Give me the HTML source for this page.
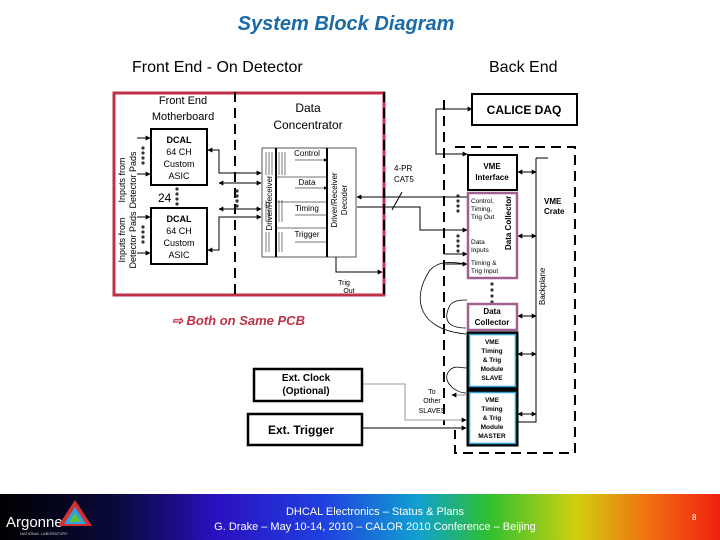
<!DOCTYPE html>
<html><head><meta charset="utf-8"><style>
html,body{margin:0;padding:0;background:#fff;width:720px;height:540px;overflow:hidden}
svg{display:block}
text{font-family:"Liberation Sans",sans-serif}
</style></head><body>
<svg width="720" height="540" viewBox="0 0 720 540" xmlns="http://www.w3.org/2000/svg">
<defs>
<marker id="a" viewBox="0 0 8 8" refX="7" refY="4" markerWidth="5" markerHeight="5" orient="auto-start-reverse"><path d="M0,0L8,4L0,8z" fill="#000"/></marker>
<linearGradient id="g" x1="0" x2="1" y1="0" y2="0">
<stop offset="0" stop-color="#000"/><stop offset="0.17" stop-color="#0a0a40"/><stop offset="0.3" stop-color="#2a10c0"/><stop offset="0.45" stop-color="#2040e0"/><stop offset="0.58" stop-color="#10a0d0"/><stop offset="0.68" stop-color="#30c030"/><stop offset="0.8" stop-color="#d0d010"/><stop offset="0.9" stop-color="#f07010"/><stop offset="1" stop-color="#f02010"/>
</linearGradient>
</defs>
<text x="346" y="30" text-anchor="middle" font-size="20" font-weight="bold" font-style="italic" fill="#1a6aa8">System Block Diagram</text>
<text x="132" y="72" font-size="16">Front End - On Detector</text>
<text x="489" y="72" font-size="16">Back End</text>

<!-- red box -->
<rect x="114" y="93" width="270" height="202" fill="none" stroke="#c0304a" stroke-width="3"/>
<line x1="235" y1="92" x2="235" y2="295" stroke="#000" stroke-width="2" stroke-dasharray="10,6"/>
<line x1="384" y1="92" x2="384" y2="295" stroke="#000" stroke-width="2" stroke-dasharray="10,6"/>
<line x1="444" y1="100" x2="444" y2="425" stroke="#000" stroke-width="2" stroke-dasharray="10,6"/>
<text x="183" y="104" text-anchor="middle" font-size="11">Front End</text>
<text x="183" y="120" text-anchor="middle" font-size="11">Motherboard</text>
<text x="308" y="112" text-anchor="middle" font-size="12">Data</text>
<text x="308" y="129" text-anchor="middle" font-size="12">Concentrator</text>

<!-- DCAL boxes -->
<g font-size="9" text-anchor="middle">
<rect x="151" y="129" width="56" height="56" fill="#fff" stroke="#000" stroke-width="2"/>
<text x="179" y="143" font-weight="bold">DCAL</text><text x="179" y="155">64 CH</text><text x="179" y="167">Custom</text><text x="179" y="179">ASIC</text>
<rect x="151" y="208" width="56" height="56" fill="#fff" stroke="#000" stroke-width="2"/>
<text x="179" y="222" font-weight="bold">DCAL</text><text x="179" y="234">64 CH</text><text x="179" y="246">Custom</text><text x="179" y="258">ASIC</text>
</g>
<text x="158" y="202" font-size="12">24</text>
<g fill="#333"><circle cx="177" cy="189" r="1.6"/><circle cx="177" cy="194" r="1.6"/><circle cx="177" cy="199" r="1.6"/><circle cx="177" cy="204" r="1.6"/>
<circle cx="143" cy="148" r="1.6"/><circle cx="143" cy="153" r="1.6"/><circle cx="143" cy="158" r="1.6"/><circle cx="143" cy="163" r="1.6"/>
<circle cx="143" cy="227" r="1.6"/><circle cx="143" cy="232" r="1.6"/><circle cx="143" cy="237" r="1.6"/><circle cx="143" cy="242" r="1.6"/>
<circle cx="237" cy="191" r="1.6"/><circle cx="237" cy="196" r="1.6"/><circle cx="237" cy="201" r="1.6"/><circle cx="237" cy="206" r="1.6"/>
<circle cx="458" cy="196" r="1.6"/><circle cx="458" cy="201" r="1.6"/><circle cx="458" cy="206" r="1.6"/><circle cx="458" cy="211" r="1.6"/>
<circle cx="458" cy="236" r="1.6"/><circle cx="458" cy="241" r="1.6"/><circle cx="458" cy="246" r="1.6"/><circle cx="458" cy="251" r="1.6"/>
<circle cx="492" cy="284" r="1.6"/><circle cx="492" cy="290" r="1.6"/><circle cx="492" cy="296" r="1.6"/><circle cx="492" cy="302" r="1.6"/></g>
<g font-size="9" transform="rotate(-90)"><text x="-180" y="125" text-anchor="middle">Inputs from</text><text x="-180" y="136" text-anchor="middle">Detector Pads</text>
<text x="-240" y="125" text-anchor="middle">Inputs from</text><text x="-240" y="136" text-anchor="middle">Detector Pads</text></g>
<g stroke="#000" stroke-width="1" fill="none" marker-end="url(#a)">
<line x1="137" y1="138" x2="150" y2="138"/><line x1="137" y1="174" x2="150" y2="174"/>
<line x1="137" y1="217" x2="150" y2="217"/><line x1="137" y1="253" x2="150" y2="253"/>
</g>
<!-- DCAL to concentrator -->
<g stroke="#000" stroke-width="1" fill="none">
<path d="M208,150 H219 V173 H261" marker-start="url(#a)" marker-end="url(#a)"/>
<line x1="219" y1="183" x2="261" y2="183" marker-start="url(#a)" marker-end="url(#a)"/>
<line x1="219" y1="209" x2="261" y2="209" marker-start="url(#a)" marker-end="url(#a)"/>
<path d="M208,250 H219 V217 H261" marker-start="url(#a)" marker-end="url(#a)"/>
</g>
<!-- concentrator inner -->
<rect x="262" y="148" width="94" height="109" fill="#fff" stroke="#555" stroke-width="1"/>
<line x1="276" y1="148" x2="276" y2="257" stroke="#000" stroke-width="2"/>
<line x1="327" y1="148" x2="327" y2="257" stroke="#000" stroke-width="2"/>
<g stroke="#444" stroke-width="0.7">
<line x1="266" y1="152" x2="266" y2="175"/><line x1="269" y1="152" x2="269" y2="175"/><line x1="272" y1="152" x2="272" y2="175"/><line x1="279" y1="152" x2="279" y2="175"/><line x1="282" y1="152" x2="282" y2="175"/><line x1="285" y1="152" x2="285" y2="175"/>
<line x1="266" y1="200" x2="266" y2="222"/><line x1="269" y1="200" x2="269" y2="222"/><line x1="279" y1="200" x2="279" y2="222"/><line x1="282" y1="200" x2="282" y2="222"/>
<line x1="266" y1="232" x2="266" y2="252"/><line x1="269" y1="232" x2="269" y2="252"/><line x1="279" y1="232" x2="279" y2="252"/><line x1="282" y1="232" x2="282" y2="252"/>
<line x1="276" y1="177" x2="327" y2="177"/><line x1="276" y1="202" x2="327" y2="202"/><line x1="276" y1="228" x2="327" y2="228"/>
<line x1="295" y1="160" x2="327" y2="160" marker-end="url(#a)"/><line x1="295" y1="188" x2="327" y2="188" marker-end="url(#a)"/>
<line x1="295" y1="215" x2="327" y2="215"/><line x1="295" y1="242" x2="327" y2="242"/>
</g>
<g font-size="8" text-anchor="middle"><text x="307" y="156">Control</text><text x="307" y="185">Data</text><text x="307" y="211">Timing</text><text x="307" y="237">Trigger</text></g>
<g font-size="8" transform="rotate(-90)"><text x="-203" y="272" text-anchor="middle">Driver/Receiver</text><text x="-200" y="337" text-anchor="middle">Driver/Receiver</text><text x="-200" y="347" text-anchor="middle">Decoder</text></g>
<!-- to back end -->
<g stroke="#000" stroke-width="1" fill="none">
<line x1="357" y1="197" x2="467" y2="197"/>
<path d="M357,207 H420 V230 H467" marker-end="url(#a)"/>
<path d="M357,197 H360" marker-start="url(#a)"/>
<path d="M336,257 V272 H382" marker-end="url(#a)"/>
<line x1="392" y1="210" x2="402" y2="192"/>
<line x1="444" y1="254" x2="467" y2="254" marker-end="url(#a)"/>
<line x1="444" y1="264" x2="467" y2="264" marker-end="url(#a)"/>
<path d="M472,109 H436 V154 H467" marker-start="url(#a)" marker-end="url(#a)"/>
<line x1="518" y1="172" x2="536" y2="172" marker-start="url(#a)" marker-end="url(#a)"/>
<line x1="518" y1="236" x2="536" y2="236" marker-start="url(#a)" marker-end="url(#a)"/>
<line x1="518" y1="316" x2="536" y2="316" marker-start="url(#a)" marker-end="url(#a)"/>
<line x1="518" y1="354" x2="536" y2="354" marker-start="url(#a)" marker-end="url(#a)"/>
<line x1="518" y1="414" x2="536" y2="414" marker-start="url(#a)" marker-end="url(#a)"/>
<path d="M536,158 H548 M536,158 V422 H518"/>
<path d="M362,384 H405 V420 H466" stroke="#999" marker-end="url(#a)"/>
<line x1="362" y1="428" x2="466" y2="428" marker-end="url(#a)"/>
<line x1="466" y1="395" x2="452" y2="395" stroke="#999" marker-end="url(#a)"/>
<path d="M466,334 C420,330 410,300 430,270 C440,260 450,262 467,264" stroke-width="0.8"/>
<path d="M466,328 C455,328 440,325 450,305 C455,300 460,300 467,300" stroke-width="0.8"/>
<path d="M466,393 C455,393 440,380 450,370 C455,365 460,368 467,368" stroke-width="0.8"/>
</g>
<text x="344" y="285" font-size="7" text-anchor="middle">Trig</text><text x="349" y="293" font-size="7" text-anchor="middle">Out</text>
<text x="394" y="171" font-size="8">4-PR</text><text x="394" y="182" font-size="8">CAT5</text>

<!-- VME crate dashed -->
<path d="M455,147 H575 V453 H455 V430" fill="none" stroke="#000" stroke-width="2" stroke-dasharray="10,6"/>
<text x="544" y="204" font-size="8" font-weight="bold">VME</text><text x="544" y="214" font-size="8" font-weight="bold">Crate</text>
<text transform="translate(545,305) rotate(-90)" font-size="8">Backplane</text>

<rect x="472" y="94" width="105" height="31" fill="#fff" stroke="#000" stroke-width="2"/>
<text x="524" y="114" font-size="12" font-weight="bold" text-anchor="middle">CALICE DAQ</text>
<rect x="468" y="155" width="49" height="35" fill="#fff" stroke="#000" stroke-width="2"/>
<text x="492" y="169" font-size="8" font-weight="bold" text-anchor="middle">VME</text><text x="492" y="180" font-size="8" font-weight="bold" text-anchor="middle">Interface</text>
<rect x="468" y="193" width="49" height="85" fill="#fff" stroke="#a06090" stroke-width="2.5"/>
<g font-size="6.5"><text x="471" y="203">Control,</text><text x="471" y="211">Timing,</text><text x="471" y="219">Trig Out</text><text x="471" y="244">Data</text><text x="471" y="252">Inputs</text><text x="471" y="265">Timing &amp;</text><text x="471" y="273">Trig Input</text></g>
<text transform="translate(511,250) rotate(-90)" font-size="8" font-weight="bold">Data Collector</text>
<rect x="468" y="304" width="49" height="26" fill="#fff" stroke="#a06090" stroke-width="2.5"/>
<text x="492" y="314" font-size="8" font-weight="bold" text-anchor="middle">Data</text><text x="492" y="325" font-size="8" font-weight="bold" text-anchor="middle">Collector</text>
<rect x="468" y="333" width="49" height="55" fill="#fff" stroke="#000" stroke-width="3"/>
<rect x="469.5" y="334.5" width="46" height="52" fill="none" stroke="#30a0d0" stroke-width="1.5"/>
<g font-size="6.5" font-weight="bold" text-anchor="middle"><text x="492" y="344">VME</text><text x="492" y="353">Timing</text><text x="492" y="362">&amp; Trig</text><text x="492" y="371">Module</text><text x="492" y="380">SLAVE</text></g>
<rect x="468" y="391" width="49" height="54" fill="#fff" stroke="#000" stroke-width="3"/>
<rect x="469.5" y="392.5" width="46" height="51" fill="none" stroke="#30a0d0" stroke-width="1.5"/>
<g font-size="6.5" font-weight="bold" text-anchor="middle"><text x="492" y="402">VME</text><text x="492" y="411">Timing</text><text x="492" y="420">&amp; Trig</text><text x="492" y="429">Module</text><text x="492" y="438">MASTER</text></g>
<g font-size="7" text-anchor="middle"><text x="432" y="394">To</text><text x="432" y="403">Other</text><text x="432" y="413">SLAVES</text></g>

<rect x="254" y="369" width="108" height="32" fill="#fff" stroke="#000" stroke-width="2.5"/>
<text x="306" y="381" font-size="10" font-weight="bold" text-anchor="middle">Ext. Clock</text><text x="306" y="394" font-size="10" font-weight="bold" text-anchor="middle">(Optional)</text>
<rect x="248" y="414" width="114" height="31" fill="#fff" stroke="#000" stroke-width="2.5"/>
<text x="301" y="434" font-size="12" font-weight="bold" text-anchor="middle">Ext. Trigger</text>

<text x="172" y="325" font-size="13" font-weight="bold" font-style="italic" fill="#c0304a">⇨ Both on Same PCB</text>

<!-- footer -->
<rect x="0" y="494" width="720" height="46" fill="url(#g)"/>
<text x="6" y="527" font-size="15" fill="#fff">Argonne</text>
<text x="20" y="535" font-size="4" fill="#ccc">NATIONAL LABORATORY</text>
<polygon points="75,500 92,526 58,526" fill="#d03030"/><polygon points="75,507 86,524 64,524" fill="#30a0e0"/><polygon points="75,513 81,522 69,522" fill="#60c040"/>
<text x="375" y="515" font-size="11" fill="#fff" text-anchor="middle">DHCAL Electronics – Status &amp; Plans</text>
<text x="375" y="530" font-size="11" fill="#fff" text-anchor="middle">G. Drake – May 10-14, 2010 – CALOR 2010 Conference – Beijing</text>
<text x="692" y="520" font-size="8" fill="#fff">8</text>
</svg>
</body></html>
